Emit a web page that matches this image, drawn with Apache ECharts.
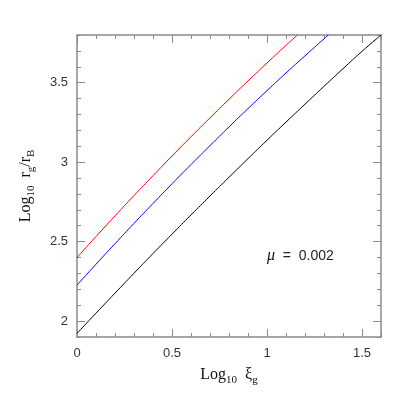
<!DOCTYPE html>
<html>
<head>
<meta charset="utf-8">
<script src="https://cdn.jsdelivr.net/npm/echarts@6/dist/echarts.min.js"></script>
<style>
  html, body { margin: 0; padding: 0; background: #fff; }
  #chart { width: 415px; height: 415px; }
</style>
</head>
<body>
<div id="chart"></div>
<script>
// x values (Log10 xi_g) sampled along each curve
const xRed = [0, 0.1, 0.2, 0.3, 0.4, 0.5, 0.6, 0.7, 0.8, 0.9, 1.0, 1.1, 1.16];
const yRed = [2.400, 2.532, 2.662, 2.790, 2.915, 3.039, 3.160, 3.279, 3.396, 3.511, 3.624, 3.735, 3.800];

const xBlue = [0, 0.1, 0.2, 0.3, 0.4, 0.5, 0.6, 0.7, 0.8, 0.9, 1.0, 1.1, 1.2, 1.3, 1.323];
const yBlue = [2.226, 2.358, 2.487, 2.615, 2.740, 2.864, 2.985, 3.104, 3.222, 3.337, 3.450, 3.561, 3.669, 3.776, 3.800];

const xBlack = [0, 0.1, 0.2, 0.3, 0.4, 0.5, 0.6, 0.7, 0.8, 0.9, 1.0, 1.1, 1.2, 1.3, 1.4, 1.5, 1.6];
const yBlack = [1.923, 2.050, 2.176, 2.301, 2.425, 2.547, 2.668, 2.787, 2.905, 3.022, 3.138, 3.252, 3.365, 3.477, 3.588, 3.697, 3.800];

// axis ticks
const xMajor = [0, 0.5, 1, 1.5];
const xMinor = [0.1, 0.2, 0.3, 0.4, 0.6, 0.7, 0.8, 0.9, 1.1, 1.2, 1.3, 1.4, 1.6];
const yMajor = [2, 2.5, 3, 3.5];
const yMinor = [1.9, 2.1, 2.2, 2.3, 2.4, 2.6, 2.7, 2.8, 2.9, 3.1, 3.2, 3.3, 3.4, 3.6, 3.7, 3.8];

const xRange = [0, 1.6];
const yRange = [1.9, 3.8];

const annotation = '0.002';

const pair = (xs, ys) => xs.map((x, i) => [x, ys[i]]);

const axisGray = '#8a8a8a';
const serif = '"Liberation Serif", "DejaVu Serif", serif';
const sans = '"Liberation Sans", "DejaVu Sans", sans-serif';

const nameRich = {
    l: { fontFamily: serif, fontSize: 16, color: '#111', lineHeight: 22, verticalAlign: 'middle' },
    s: { fontFamily: serif, fontSize: 11, color: '#111', lineHeight: 12, verticalAlign: 'bottom' }
};

const makeX = (position, ticks, len, labels, showLine) => ({
    type: 'value',
    position: position,
    min: xRange[0],
    max: xRange[1],
    axisLine: { show: showLine, onZero: false, lineStyle: { color: axisGray, width: 1.5 } },
    axisTick: { show: true, inside: true, length: len, customValues: ticks, lineStyle: { color: axisGray, width: 1 } },
    axisLabel: labels ? {
        show: true, customValues: xMajor, margin: 10,
        fontFamily: sans, fontSize: 13, color: '#333',
        formatter: (v) => String(v)
    } : { show: false },
    splitLine: { show: false }
});

const makeY = (position, ticks, len, labels, showLine) => ({
    type: 'value',
    position: position,
    min: yRange[0],
    max: yRange[1],
    axisLine: { show: showLine, onZero: false, lineStyle: { color: axisGray, width: 1.5 } },
    axisTick: { show: true, inside: true, length: len, customValues: ticks, lineStyle: { color: axisGray, width: 1 } },
    axisLabel: labels ? {
        show: true, customValues: yMajor, margin: 9,
        fontFamily: sans, fontSize: 13, color: '#333',
        formatter: (v) => String(v)
    } : { show: false },
    splitLine: { show: false }
});

const xAxes = [
    Object.assign(makeX('bottom', xMajor, 8, true, true), {
        name: '{l|Log}{s|10}{l|  ξ}{s|g}',
        nameLocation: 'middle',
        nameGap: 27,
        nameTextStyle: { rich: nameRich }
    }),
    makeX('bottom', xMinor, 4, false, false),
    makeX('top', xMajor, 8, false, true),
    makeX('top', xMinor, 4, false, false)
];

const yAxes = [
    Object.assign(makeY('left', yMajor, 8, true, true), {
        name: '{l|Log}{s|10}{l|  r}{s|g}{l|/r}{s|B}',
        nameLocation: 'middle',
        nameGap: 40,
        nameTextStyle: { rich: nameRich }
    }),
    makeY('left', yMinor, 4, false, false),
    makeY('right', yMajor, 8, false, true),
    makeY('right', yMinor, 4, false, false)
];

const lineSeries = (name, data, color) => ({
    name: name,
    type: 'line',
    data: data,
    showSymbol: false,
    smooth: true,
    clip: true,
    lineStyle: { color: color, width: 1 },
    itemStyle: { color: color },
    animation: false
});

const chart = echarts.init(document.getElementById('chart'));

chart.setOption({
    animation: false,
    grid: { left: 77, top: 35, right: 34, bottom: 78, containLabel: false },
    xAxis: xAxes,
    yAxis: yAxes,
    series: [
        lineSeries('red', pair(xRed, yRed), '#ff0000'),
        lineSeries('blue', pair(xBlue, yBlue), '#0000ff'),
        lineSeries('black', pair(xBlack, yBlack), '#000000')
    ],
    graphic: [{
        type: 'text',
        left: 267,
        top: 248,
        style: {
            text: '{m|μ}{t|  =  ' + annotation + '}',
            rich: {
                m: { fontFamily: serif, fontStyle: 'italic', fontSize: 16, fill: '#111' },
                t: { fontFamily: sans, fontSize: 14, fill: '#222' }
            }
        }
    }]
});
</script>
</body>
</html>
